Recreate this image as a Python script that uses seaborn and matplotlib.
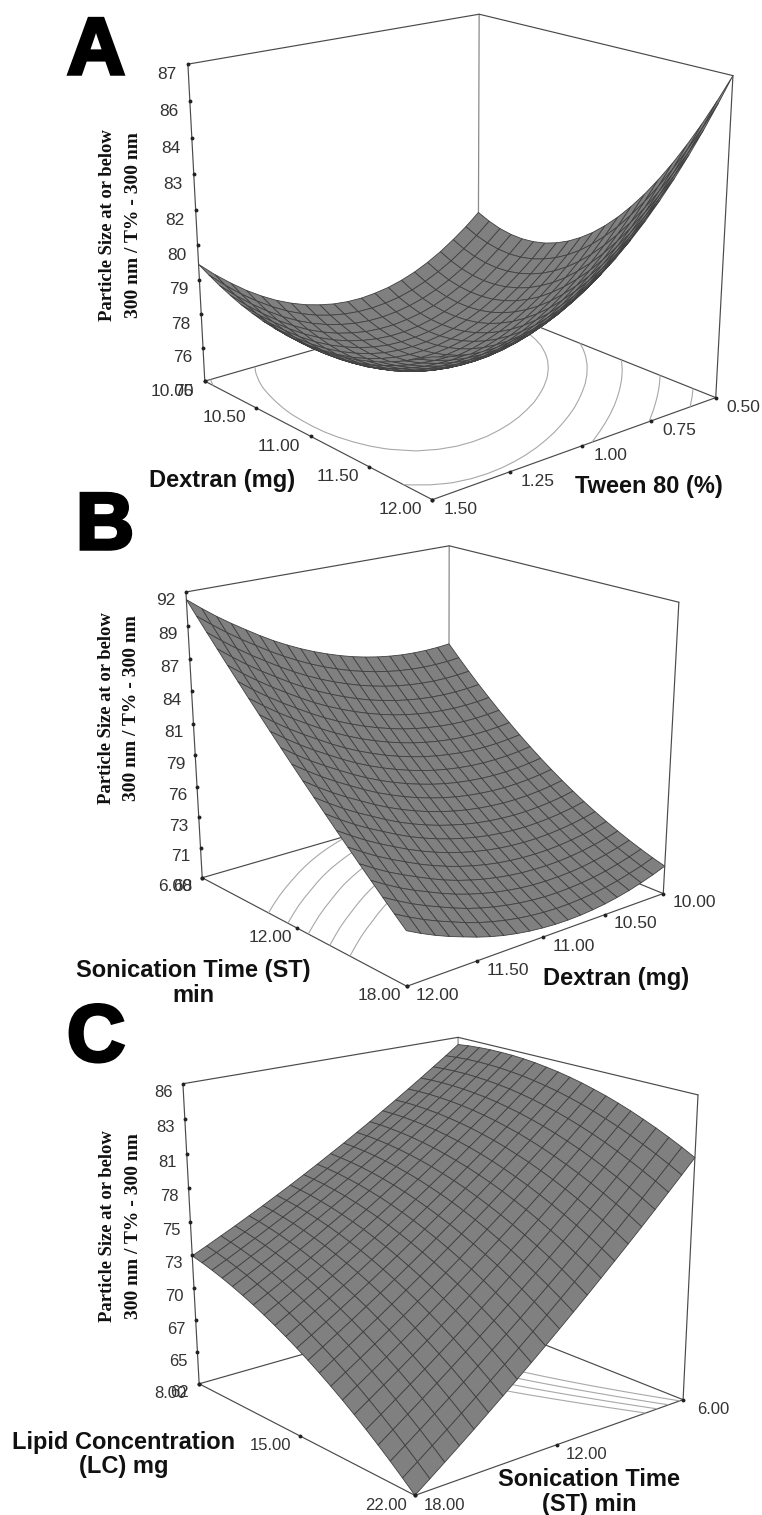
import numpy as np
import matplotlib
matplotlib.use("Agg")
import matplotlib.pyplot as plt
import matplotlib.patheffects as pe
from mpl_toolkits.mplot3d import proj3d
import seaborn as sns

sns.set_theme(style="white")
plt.rcParams['font.family'] = ['Liberation Sans', 'DejaVu Sans']

# ---------- data ----------
dextran_a = [10.0,10.1,10.2,10.3,10.4,10.5,10.6,10.7,10.8,10.9,11.0,11.1,11.2,11.3,11.4,11.5,11.6,11.7,11.8,11.9,12.0]
tween_a = [1.5,1.45,1.4,1.35,1.3,1.25,1.2,1.15,1.1,1.05,1.0,0.95,0.9,0.85,0.8,0.75,0.7,0.65,0.6,0.55,0.5]
size_a = [
 [79.60,79.36,79.14,78.95,78.78,78.65,78.54,78.47,78.42,78.40,78.40,78.44,78.50,78.59,78.70,78.85,79.02,79.23,79.46,79.72,80.00],
 [79.06,78.82,78.60,78.42,78.26,78.14,78.04,77.97,77.94,77.93,77.95,78.01,78.09,78.20,78.34,78.52,78.72,78.95,79.22,79.51,79.83],
 [78.58,78.33,78.12,77.94,77.80,77.68,77.59,77.53,77.51,77.52,77.56,77.63,77.74,77.87,78.04,78.24,78.47,78.73,79.03,79.35,79.71],
 [78.14,77.90,77.69,77.51,77.38,77.26,77.18,77.14,77.13,77.16,77.22,77.31,77.44,77.59,77.79,78.01,78.27,78.56,78.89,79.25,79.65],
 [77.76,77.52,77.31,77.14,77.01,76.90,76.83,76.80,76.81,76.85,76.93,77.04,77.19,77.37,77.59,77.84,78.13,78.45,78.81,79.21,79.64],
 [77.43,77.19,76.99,76.82,76.70,76.60,76.54,76.52,76.54,76.60,76.70,76.83,77.00,77.20,77.45,77.73,78.04,78.40,78.79,79.22,79.69],
 [77.16,76.92,76.72,76.56,76.44,76.36,76.31,76.30,76.33,76.41,76.52,76.67,76.86,77.09,77.36,77.67,78.01,78.40,78.83,79.29,79.79],
 [76.94,76.70,76.51,76.35,76.24,76.16,76.12,76.13,76.18,76.27,76.40,76.57,76.78,77.03,77.33,77.66,78.03,78.45,78.91,79.41,79.95],
 [76.78,76.54,76.35,76.20,76.09,76.02,75.99,76.01,76.08,76.18,76.33,76.52,76.76,77.03,77.35,77.71,78.11,78.56,79.05,79.58,80.16],
 [76.66,76.43,76.24,76.09,75.99,75.93,75.92,75.95,76.03,76.15,76.31,76.52,76.78,77.08,77.43,77.81,78.24,78.72,79.25,79.81,80.43],
 [76.60,76.37,76.18,76.04,75.94,75.90,75.90,75.94,76.03,76.17,76.35,76.58,76.86,77.19,77.56,77.97,78.43,78.94,79.50,80.10,80.75],
 [76.59,76.36,76.18,76.04,75.95,75.92,75.93,75.98,76.09,76.24,76.44,76.69,76.99,77.34,77.74,78.18,78.67,79.22,79.81,80.44,81.13],
 [76.64,76.41,76.23,76.10,76.01,75.99,76.01,76.08,76.20,76.37,76.59,76.86,77.18,77.55,77.97,78.45,78.97,79.55,80.17,80.84,81.56],
 [76.73,76.50,76.33,76.20,76.13,76.11,76.14,76.22,76.36,76.55,76.79,77.08,77.42,77.82,78.27,78.77,79.32,79.93,80.58,81.29,82.05],
 [76.88,76.65,76.48,76.36,76.30,76.29,76.33,76.42,76.57,76.78,77.04,77.35,77.72,78.14,78.62,79.15,79.73,80.36,81.05,81.79,82.59],
 [77.08,76.86,76.69,76.58,76.52,76.52,76.57,76.68,76.85,77.07,77.35,77.68,78.07,78.52,79.02,79.58,80.19,80.85,81.57,82.35,83.19],
 [77.34,77.12,76.95,76.85,76.80,76.81,76.87,77.00,77.18,77.42,77.71,78.07,78.48,78.95,79.47,80.06,80.70,81.40,82.15,82.97,83.84],
 [77.65,77.43,77.27,77.17,77.13,77.15,77.23,77.37,77.56,77.82,78.13,78.50,78.94,79.43,79.98,80.60,81.27,82.00,82.79,83.64,84.55],
 [78.02,77.80,77.65,77.55,77.52,77.55,77.64,77.79,78.00,78.27,78.60,78.99,79.45,79.97,80.55,81.19,81.89,82.65,83.48,84.36,85.31],
 [78.43,78.22,78.07,77.98,77.95,77.99,78.09,78.26,78.48,78.77,79.12,79.54,80.02,80.56,81.17,81.84,82.57,83.36,84.22,85.14,86.13],
 [78.90,78.69,78.54,78.46,78.44,78.49,78.60,78.78,79.02,79.33,79.70,80.14,80.64,81.21,81.84,82.54,83.30,84.13,85.02,85.98,87.00],
]
ztick_labels_a = ["75","76","78","79","80","82","83","84","86","87"]
levels_a = [78.0, 79.4, 81.0, 83.1, 85.3]

sonication_b = [6.0,6.6,7.2,7.8,8.4,9.0,9.6,10.2,10.8,11.4,12.0,12.6,13.2,13.8,14.4,15.0,15.6,16.2,16.8,17.4,18.0]
dextran_b = [12.0,11.9,11.8,11.7,11.6,11.5,11.4,11.3,11.2,11.1,11.0,10.9,10.8,10.7,10.6,10.5,10.4,10.3,10.2,10.1,10.0]
size_b = [
 [91.40,90.35,89.32,88.30,87.28,86.28,85.28,84.30,83.32,82.35,81.40,80.45,79.52,78.60,77.68,76.78,75.88,75.00,74.12,73.25,72.40],
 [90.50,89.45,88.43,87.41,86.40,85.40,84.42,83.44,82.48,81.52,80.59,79.65,78.74,77.83,76.94,76.05,75.18,74.32,73.47,72.63,71.80],
 [89.65,88.61,87.59,86.57,85.57,84.58,83.61,82.64,81.69,80.75,79.83,78.91,78.01,77.12,76.25,75.38,74.53,73.69,72.87,72.06,71.26],
 [88.87,87.83,86.81,85.80,84.81,83.83,82.87,81.91,80.97,80.05,79.14,78.24,77.35,76.48,75.63,74.78,73.96,73.14,72.34,71.56,70.78],
 [88.14,87.11,86.09,85.09,84.10,83.13,82.18,81.24,80.31,79.40,78.50,77.62,76.75,75.90,75.06,74.24,73.44,72.65,71.87,71.11,70.36],
 [87.43,86.40,85.39,84.39,83.41,82.45,81.50,80.57,79.66,78.76,77.88,77.01,76.16,75.33,74.51,73.71,72.93,72.16,71.41,70.67,69.95],
 [86.77,85.75,84.74,83.75,82.77,81.82,80.88,79.96,79.06,78.18,77.31,76.46,75.62,74.81,74.02,73.24,72.47,71.73,71.00,70.29,69.60],
 [86.18,85.16,84.15,83.17,82.20,81.26,80.33,79.42,78.53,77.66,76.81,75.97,75.15,74.36,73.59,72.83,72.08,71.37,70.66,69.98,69.31],
 [85.64,84.62,83.62,82.65,81.69,80.75,79.83,78.94,78.06,77.20,76.36,75.54,74.74,73.97,73.21,72.47,71.75,71.06,70.38,69.72,69.08],
 [85.16,84.14,83.15,82.18,81.23,80.30,79.39,78.50,77.64,76.79,75.97,75.16,74.38,73.63,72.89,72.17,71.47,70.80,70.15,69.51,68.90],
 [84.73,83.72,82.73,81.76,80.82,79.90,79.00,78.12,77.27,76.44,75.63,74.84,74.08,73.34,72.62,71.92,71.25,70.60,69.97,69.36,68.78],
 [84.35,83.34,82.36,81.39,80.46,79.55,78.66,77.79,76.95,76.13,75.34,74.57,73.82,73.10,72.40,71.72,71.07,70.44,69.84,69.26,68.70],
 [84.02,83.02,82.04,81.08,80.15,79.25,78.37,77.51,76.68,75.88,75.10,74.35,73.62,72.91,72.23,71.58,70.95,70.34,69.76,69.21,68.68],
 [83.75,82.75,81.77,80.82,79.90,79.01,78.14,77.29,76.47,75.68,74.92,74.18,73.47,72.78,72.12,71.49,70.88,70.30,69.74,69.22,68.71],
 [83.53,82.53,81.56,80.62,79.70,78.82,77.96,77.12,76.31,75.54,74.79,74.07,73.37,72.70,72.06,71.45,70.86,70.31,69.78,69.28,68.80],
 [83.36,82.36,81.40,80.46,79.55,78.68,77.82,77.00,76.20,75.44,74.71,74.00,73.32,72.67,72.05,71.46,70.89,70.36,69.86,69.38,68.93],
 [83.24,82.25,81.29,80.36,79.46,78.59,77.74,76.93,76.15,75.40,74.68,73.99,73.33,72.70,72.10,71.53,70.98,70.47,69.99,69.54,69.12],
 [83.18,82.19,81.23,80.31,79.41,78.55,77.72,76.92,76.15,75.41,74.71,74.03,73.39,72.78,72.20,71.65,71.12,70.64,70.18,69.76,69.36],
 [83.17,82.18,81.23,80.31,79.42,78.57,77.75,76.96,76.20,75.48,74.79,74.13,73.50,72.91,72.35,71.82,71.32,70.86,70.43,70.03,69.66],
 [83.21,82.22,81.28,80.36,79.48,78.64,77.83,77.05,76.30,75.59,74.92,74.27,73.66,73.09,72.55,72.04,71.56,71.12,70.72,70.34,70.00],
 [83.30,82.32,81.38,80.47,79.60,78.76,77.96,77.19,76.46,75.76,75.10,74.47,73.88,73.32,72.80,72.31,71.86,71.44,71.06,70.71,70.40],
]
ztick_labels_b = ["68","71","73","76","79","81","84","87","89","92"]
levels_b = [76.8, 78.5, 80.4, 82.3, 84.2]

lipid_c = [8.0,8.7,9.4,10.1,10.8,11.5,12.2,12.9,13.6,14.3,15.0,15.7,16.4,17.1,17.8,18.5,19.2,19.9,20.6,21.3,22.0]
sonication_c = [6.0,6.6,7.2,7.8,8.4,9.0,9.6,10.2,10.8,11.4,12.0,12.6,13.2,13.8,14.4,15.0,15.6,16.2,16.8,17.4,18.0]
size_c = [
 [85.40,85.51,85.58,85.62,85.62,85.60,85.54,85.45,85.32,85.17,84.98,84.76,84.50,84.22,83.90,83.55,83.16,82.75,82.30,81.82,81.30],
 [84.64,84.73,84.79,84.81,84.80,84.76,84.68,84.58,84.43,84.26,84.06,83.82,83.55,83.25,82.91,82.55,82.14,81.71,81.25,80.75,80.22],
 [83.90,83.97,84.01,84.02,83.99,83.93,83.84,83.72,83.56,83.37,83.15,82.90,82.61,82.29,81.94,81.56,81.14,80.69,80.21,79.70,79.15],
 [83.16,83.22,83.24,83.23,83.19,83.11,83.01,82.87,82.69,82.49,82.25,81.98,81.68,81.34,80.98,80.58,80.14,79.68,79.18,78.65,78.09],
 [82.44,82.48,82.49,82.46,82.40,82.31,82.19,82.03,81.84,81.62,81.37,81.08,80.76,80.41,80.03,79.61,79.16,78.68,78.17,77.62,77.04],
 [81.73,81.76,81.75,81.70,81.63,81.52,81.38,81.21,81.00,80.77,80.50,80.19,79.86,79.49,79.09,78.66,78.19,77.70,77.17,76.60,76.01],
 [81.04,81.05,81.02,80.96,80.87,80.75,80.59,80.40,80.18,79.93,79.64,79.32,78.97,78.59,78.17,77.72,77.24,76.73,76.18,75.60,74.99],
 [80.35,80.35,80.30,80.23,80.12,79.98,79.81,79.60,79.36,79.10,78.79,78.46,78.09,77.69,77.26,76.79,76.29,75.77,75.20,74.61,73.98],
 [79.68,79.66,79.60,79.51,79.38,79.23,79.04,78.82,78.56,78.28,77.96,77.61,77.22,76.81,76.36,75.88,75.36,74.82,74.24,73.63,72.98],
 [79.02,78.98,78.91,78.80,78.66,78.49,78.28,78.05,77.77,77.47,77.14,76.77,76.37,75.94,75.47,74.98,74.44,73.88,73.29,72.66,72.00],
 [78.38,78.32,78.23,78.11,77.95,77.76,77.54,77.29,77.00,76.68,76.33,75.95,75.53,75.08,74.60,74.09,73.54,72.96,72.35,71.71,71.03],
 [77.74,77.67,77.56,77.42,77.25,77.04,76.81,76.54,76.23,75.90,75.53,75.13,74.70,74.23,73.74,73.21,72.64,72.05,71.42,70.76,70.07],
 [77.12,77.03,76.91,76.75,76.56,76.34,76.09,75.80,75.48,75.13,74.75,74.33,73.88,73.40,72.89,72.34,71.76,71.15,70.51,69.83,69.12],
 [76.51,76.41,76.27,76.09,75.89,75.65,75.38,75.08,74.74,74.38,73.98,73.54,73.08,72.58,72.05,71.49,70.89,70.27,69.61,68.91,68.19],
 [75.92,75.80,75.64,75.45,75.23,74.98,74.69,74.37,74.02,73.64,73.22,72.77,72.29,71.78,71.23,70.65,70.04,69.40,68.72,68.01,67.27],
 [75.33,75.20,75.02,74.82,74.58,74.31,74.01,73.67,73.30,72.91,72.47,72.01,71.51,70.98,70.42,69.82,69.19,68.54,67.84,67.12,66.36],
 [74.76,74.61,74.42,74.20,73.94,73.66,73.34,72.99,72.60,72.19,71.74,71.26,70.74,70.20,69.62,69.01,68.36,67.69,66.98,66.24,65.46],
 [74.20,74.03,73.83,73.59,73.32,73.02,72.68,72.32,71.91,71.48,71.02,70.52,69.99,69.43,68.83,68.21,67.54,66.85,66.13,65.37,64.58],
 [73.66,73.47,73.25,73.00,72.71,72.39,72.04,71.66,71.24,70.79,70.31,69.80,69.25,68.67,68.06,67.42,66.74,66.03,65.29,64.52,63.71],
 [73.12,72.92,72.68,72.41,72.11,71.77,71.41,71.01,70.57,70.11,69.61,69.08,68.52,67.92,67.30,66.64,65.94,65.22,64.46,63.67,62.85],
 [72.60,72.38,72.13,71.84,71.52,71.17,70.79,70.37,69.92,69.44,68.93,68.38,67.80,67.19,66.55,65.87,65.16,64.42,63.65,62.84,62.00],
]
ztick_labels_c = ["62","65","67","70","73","75","78","81","83","86"]
levels_c = [78.0, 79.0, 80.0, 81.0]

# ---------- layout: where the box corners of each panel fall, in pixels ----------
W, H = 762, 1515
corners_a = dict(left=(205,381), front=(432,500), right=(716,397), back=(478,303),
                 tleft=(188,64), tback=(479,14), tright=(733,76))
corners_b = dict(left=(202,878), front=(407,986), right=(663,894), back=(449,806),
                 tleft=(186,592), tback=(449,546), tright=(679,602))
corners_c = dict(left=(199,1383), front=(415,1496), right=(683,1399), back=(458,1311),
                 tleft=(183,1084), tback=(458,1037), tright=(698,1095))

fig = plt.figure(figsize=(W/100, H/100), dpi=100, facecolor="white")


def pixel_text(px, py, s, **kw):
    fig.text(px/W, 1-py/H, s, **kw)


def camera(ax, c, a, b, zr):
    """Projective camera that puts the unit box corners on the given pixels."""
    ax.apply_aspect()
    inv = ax.transData.inverted()
    names = dict(left=(0,0,0), front=(1,0,0), right=(1,1,0), back=(0,1,0),
                 tleft=(0,0,1), tback=(0,1,1), tright=(1,1,1))
    rows = []
    for k, (u, v, w) in names.items():
        px, py = c[k]
        X, Y = inv.transform((px, H-py))
        p = [u, v, w, 1]
        rows.append(p + [0,0,0,0] + [-X*t for t in p])
        rows.append([0,0,0,0] + p + [-Y*t for t in p])
    P = np.linalg.svd(np.array(rows))[2][-1].reshape(3, 4)
    P = P/(P[2] @ np.array([.5,.5,.5,1]))
    S = np.array([[1/(a[-1]-a[0]),0,0,-a[0]/(a[-1]-a[0])],
                  [0,1/(b[-1]-b[0]),0,-b[0]/(b[-1]-b[0])],
                  [0,0,1/(zr[1]-zr[0]),-zr[0]/(zr[1]-zr[0])],
                  [0,0,0,1]])
    Pd = P @ S
    M = np.vstack([Pd[0], Pd[1], [0,0,0,-1], Pd[2]])
    ax.get_proj = lambda: M


def panel(top_px, c, a, b, table, ztl, levels, aticks, bticks, zr, off):
    ax = fig.add_axes([0, 1-(top_px+W)/H, 1, W/H], projection="3d", computed_zorder=False)
    ax.set_axis_off()
    ax.patch.set_visible(False)
    camera(ax, c, a, b, zr)
    a0, a1, b0, b1 = a[0], a[-1], b[0], b[-1]
    z0, z1 = zr
    ln = dict(color="#4a4a4a", lw=0.85)
    ax.plot([a0,a1,a1],[b0,b0,b1],[z0,z0,z0], zorder=1, **ln)
    ax.plot([a0,a0,a1],[b0,b1,b1],[z0,z0,z0], zorder=1, **ln)
    ax.plot([a0,a0],[b1,b1],[z0,z1], color="#8a8a8a", lw=0.9, zorder=1)
    ax.plot([a0,a0,a1],[b0,b1,b1],[z1,z1,z1], zorder=1, **ln)
    ax.plot([a0,a0],[b0,b0],[z0,z1], zorder=1, **ln)
    ax.plot([a1,a1],[b1,b1],[z0,z1], zorder=1, **ln)
    A, B = np.meshgrid(a, b)
    Z = np.array(table)
    ax.contour(A, B, Z, levels=levels, zdir="z", offset=z0, colors="#a8a8a8",
               linewidths=0.8, zorder=2)
    ax.plot_surface(A, B, Z, rstride=1, cstride=1, color="#808080", shade=False,
                    edgecolor="#404040", linewidth=0.6, antialiased=True, zorder=3)
    zt = np.linspace(z0, z1, len(ztl))
    dot = dict(ls="", marker="o", ms=1.8, color="#222222", zorder=4)
    ax.plot([a0]*len(zt), [b0]*len(zt), zt, **dot)
    ax.plot([v for v,_ in aticks], [b0]*len(aticks), [z0]*len(aticks), **dot)
    ax.plot([a1]*len(bticks), [v for v,_ in bticks], [z0]*len(bticks), **dot)
    M = ax.get_proj()

    def tick(x, y, z, s, ha, d):
        X, Y, _ = proj3d.proj_transform(x, y, z, M)
        ax.annotate(s, xy=(X, Y), xycoords="data", xytext=d, textcoords="offset pixels",
                    ha=ha, va="center", color="#333333", fontsize=off["fs"],
                    annotation_clip=False, zorder=6)

    for v, s in zip(zt, ztl):
        tick(a0, b0, v, s, "right", off["z"])
    for v, s in aticks:
        tick(v, b0, z0, s, "center", off["a"])
    for v, s in bticks:
        tick(a1, v, z0, s, "center", off["b"])
    return ax


panel(0, corners_a, dextran_a, tween_a, size_a, ztick_labels_a, levels_a,
      [(10.0,"10.00"),(10.5,"10.50"),(11.0,"11.00"),(11.5,"11.50"),(12.0,"12.00")],
      [(1.5,"1.50"),(1.25,"1.25"),(1.0,"1.00"),(0.75,"0.75"),(0.5,"0.50")],
      (75,87), dict(z=(-11,-10), a=(-32,-10), b=(28,-10), fs=12.5))
panel(380, corners_b, sonication_b, dextran_b, size_b, ztick_labels_b, levels_b,
      [(6.0,"6.00"),(12.0,"12.00"),(18.0,"18.00")],
      [(12.0,"12.00"),(11.5,"11.50"),(11.0,"11.00"),(10.5,"10.50"),(10.0,"10.00")],
      (68,92), dict(z=(-10,-9), a=(-27,-9), b=(31,-9), fs=12.5))
panel(753, corners_c, lipid_c, sonication_c[::-1], size_c[::-1], ztick_labels_c, levels_c,
      [(8.0,"8.00"),(15.0,"15.00"),(22.0,"22.00")],
      [(18.0,"18.00"),(12.0,"12.00"),(6.0,"6.00")],
      (62,86), dict(z=(-10,-9), a=(-29,-10), b=(30,-10), fs=12))

# ---------- titles ----------
ttl = dict(ha="center", va="center", fontsize=17, fontweight="bold", color="#111111")
pixel_text(222, 480, "Dextran (mg)", **ttl)
pixel_text(649, 487, "Tween 80 (%)", **ttl)
pixel_text(193, 970, "Sonication Time (ST)", **ttl)
pixel_text(193, 996, "min", **ttl)
pixel_text(616, 979, "Dextran (mg)", **ttl)
pixel_text(124, 1442, "Lipid Concentration", **ttl)
pixel_text(124, 1467, "(LC) mg", **ttl)
pixel_text(589, 1479, "Sonication Time", **ttl)
pixel_text(589, 1505, "(ST) min", **ttl)

ylab = dict(ha="center", va="center", rotation=90, fontweight="bold",
            family="Liberation Serif", color="#111111")
for x1, x2, yc in [(108, 133, 225), (106, 131, 708), (108, 133, 1226)]:
    pixel_text(x1, yc, "Particle Size at or below", fontsize=13.4, **ylab)
    pixel_text(x2, yc, "300 nm / T% - 300 nm", fontsize=14, **ylab)

big = dict(ha="center", va="baseline", fontsize=58, fontweight="bold", color="black",
           path_effects=[pe.Stroke(linewidth=2.5, foreground="black", joinstyle="miter"), pe.Normal()])
pixel_text(96, 74, "A", **big)
pixel_text(105, 549, "B", **big)
pixel_text(96, 1061, "C", **big)

fig.savefig("out.png", dpi=100)
